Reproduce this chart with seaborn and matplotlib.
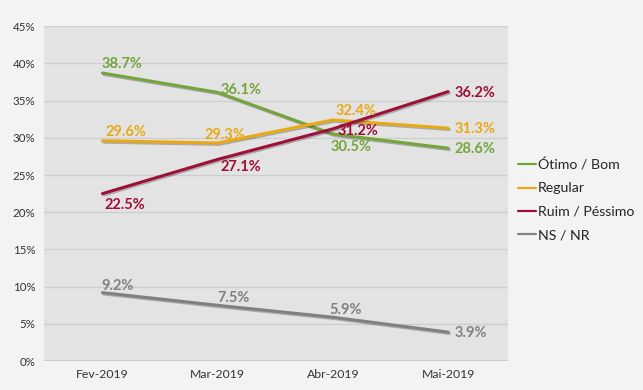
import pandas as pd
import seaborn as sns
import matplotlib.pyplot as plt
import matplotlib.patheffects as pe

# Data
months = ['Fev-2019', 'Mar-2019', 'Abr-2019', 'Mai-2019']
otimo_bom = [38.7, 36.1, 30.5, 28.6]
regular = [29.6, 29.3, 32.4, 31.3]
ruim_pessimo = [22.5, 27.1, 31.2, 36.2]
ns_nr = [9.2, 7.5, 5.9, 3.9]

series_names = ['Ótimo / Bom', 'Regular', 'Ruim / Péssimo', 'NS / NR']
series_values = [otimo_bom, regular, ruim_pessimo, ns_nr]
colors = ['#74a53c', '#e8a915', '#9e1038', '#808080']

# label offsets from each point, in pixels (dx right, dy down)
label_offsets = [
    [(20, -9), (23, -2), (18, 13), (27, 1)],
    [(23, -9), (7, -8), (23, -9), (27, 1)],
    [(22, 11), (23, 8), (25, 2), (27, 1)],
    [(15, -7), (16, -7), (13, -7), (23, 1)],
]


def build_frame() -> pd.DataFrame:
    """Long-format frame for seaborn."""
    rows = []
    for name, vals in zip(series_names, series_values):
        for i, v in enumerate(vals):
            rows.append({'idx': i, 'month': months[i], 'value': v, 'serie': name})
    return pd.DataFrame(rows)


def main():
    sns.set_style('white')
    plt.rcParams['font.family'] = ['Lato', 'DejaVu Sans']

    df = build_frame()

    fig = plt.figure(figsize=(6.43, 3.9), dpi=100)
    fig.patch.set_facecolor('#f3f3f3')
    ax = fig.add_axes([0.068, 0.074, 0.722, 0.859])
    ax.set_facecolor('#e3e3e3')

    sns.lineplot(data=df, x='idx', y='value', hue='serie', hue_order=series_names,
                 palette=colors, linewidth=2.2, ax=ax, legend=True)
    for line in ax.get_lines():
        line.set_path_effects([pe.SimpleLineShadow(offset=(1, -1), alpha=0.25), pe.Normal()])

    # data labels (pixel offsets -> points at dpi 100)
    for vals, col, offs in zip(series_values, colors, label_offsets):
        for i, v in enumerate(vals):
            dx, dy = offs[i]
            ax.annotate(f'{v:.1f}%', (i, v), xytext=(dx * 0.72, -dy * 0.72),
                        textcoords='offset points', ha='center', va='center',
                        color=col, fontsize=10.5, fontweight='bold')

    ax.set_xlim(-0.51, 3.52)
    ax.set_ylim(0, 45)
    ax.set_xticks(range(len(months)))
    ax.set_xticklabels(months)
    ax.set_yticks(range(0, 46, 5))
    ax.set_yticklabels([f'{t}%' for t in range(0, 46, 5)])
    ax.tick_params(axis='x', labelsize=8.8, colors='#333333', length=0, pad=6)
    ax.tick_params(axis='y', labelsize=8.3, colors='#333333', length=0, pad=6)
    ax.set_xlabel('')
    ax.set_ylabel('')
    ax.grid(axis='y', color='#cdcdcd', linewidth=0.9)
    ax.set_axisbelow(True)
    for s in ax.spines.values():
        s.set_visible(False)
    ax.axhline(0, color='#c8c8c8', linewidth=1.2)

    handles, labels = ax.get_legend_handles_labels()
    leg = ax.legend(handles, labels, loc='center left', bbox_to_anchor=(1.0, 0.482),
                    frameon=False, fontsize=10.2, handlelength=1.3, handletextpad=0.1,
                    labelspacing=0.8, borderaxespad=0.3)
    for h in leg.get_lines():
        h.set_linewidth(1.6)
        h.set_path_effects([])

    plt.savefig('out.png', dpi=100, facecolor=fig.get_facecolor())
    plt.close()


if __name__ == '__main__':
    main()
